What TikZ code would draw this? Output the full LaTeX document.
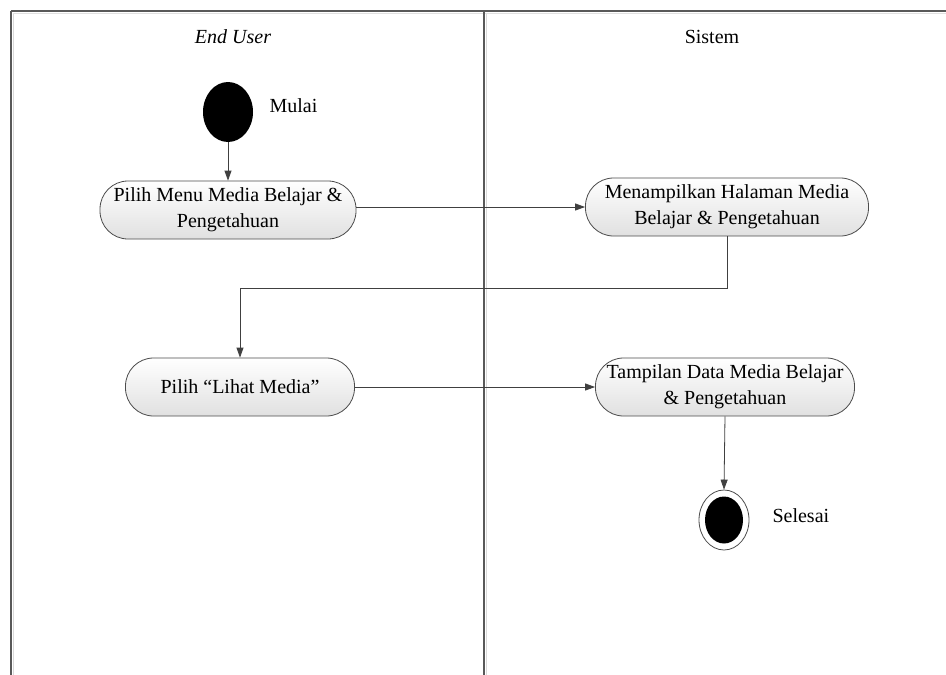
\documentclass[tikz,border=0pt]{standalone}
\usepackage{fontspec}
\setmainfont{Liberation Serif}
\usetikzlibrary{arrows.meta,shapes.geometric,calc}
\begin{document}
\begin{tikzpicture}[x=1pt,y=-1pt,
  lane/.style={draw=black!65,line width=1.2pt},
  act/.style={draw=black!70,line width=0.8pt,rounded corners=28pt,
    top color=white,bottom color=black!12,align=center,
    font=\fontsize{20}{26}\selectfont,inner sep=2pt,minimum height=58pt},
  arr/.style={draw=black!75,line width=0.8pt,-{Triangle[length=10pt,width=7pt]}},
  lbl/.style={font=\fontsize{20}{24}\selectfont},
  startnode/.style={ellipse,fill=black,minimum width=50pt,minimum height=60pt,inner sep=0pt},
]
\useasboundingbox (0,0) rectangle (946,675);
\fill[white] (0,0) rectangle (946,675);
% swimlanes
\draw[black!15,line width=1.5pt] (13.5,13) -- (13.5,675);
\draw[black!15,line width=1.5pt] (486.5,13) -- (486.5,675);
\draw[black!12,line width=1.5pt] (13,13.5) -- (946,13.5);
\draw[lane] (11,11) -- (946,11);
\draw[lane] (11,11) -- (11,675);
\draw[lane] (484,11) -- (484,675);
\node[lbl,font=\fontsize{20}{24}\selectfont\itshape] (h1) at (233,37) {End User};
\node[lbl] (h2) at (712,37) {Sistem};
% nodes
\node[startnode] (start) at (228,112) {};
\node[lbl,anchor=west] (mulai) at (266,106) {Mulai};
\node[act,minimum width=256pt] (n1) at (228,210) {Pilih Menu Media Belajar \&\\Pengetahuan};
\node[act,minimum width=283pt] (n2) at (727,207) {Menampilkan Halaman Media\\Belajar \& Pengetahuan};
\node[act,minimum width=229pt] (n3) at (240,387) {Pilih ``Lihat Media''};
\node[act,minimum width=259pt] (n4) at (725,387) {Tampilan Data Media Belajar\\\& Pengetahuan};
\node[draw=black!70,line width=0.8pt,ellipse,minimum width=50pt,minimum height=60pt,inner sep=0pt,fill=white] (end) at (724,520) {};
\node[ellipse,fill=black,minimum width=38pt,minimum height=47pt,inner sep=0pt] (endin) at (end.center) {};
\node[lbl,anchor=west] (selesai) at (769,516) {Selesai};
% connectors
\coordinate (bend) at (0,288);
\draw[arr] (start.south) -- (n1.north);
\draw[arr] (n1.east |- n2.west) -- (n2.west);
\draw[arr] (n2.south) -- (n2.south |- bend) -| (n3.north);
\draw[arr] (n3.east) -- (n4.west);
\draw[arr] (n4.south) -- (end.north);
\end{tikzpicture}
\end{document}
